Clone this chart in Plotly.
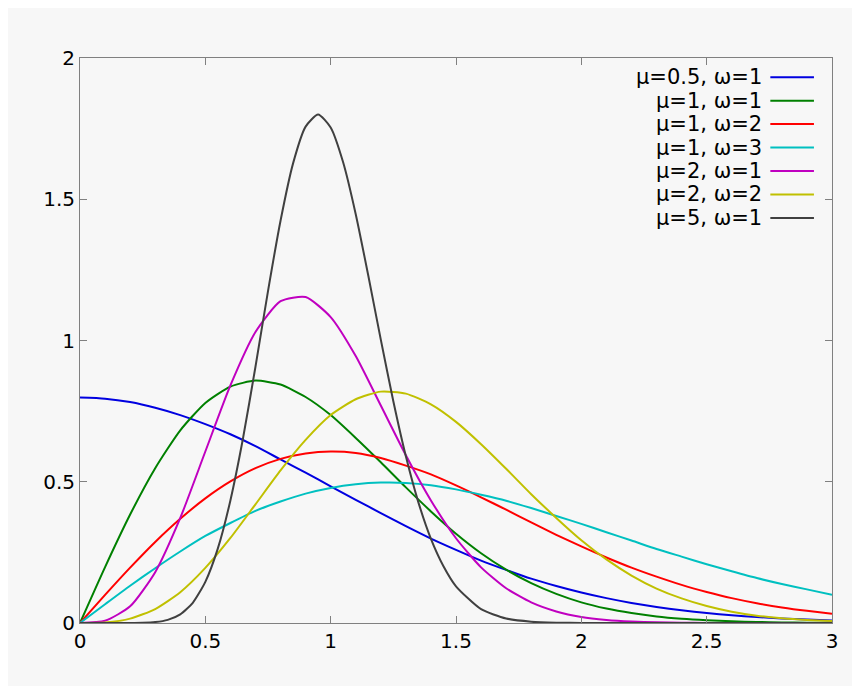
import plotly.graph_objects as go

x01 = [round(i*0.1, 2) for i in range(31)]
s_05_1 = [.798,.794,.782,.762,.736,.704,.668,.626,.579,.532,.484,.436,.389,.343,.299,.259,.221,.188,.157,.131,.108,.088,.071,.057,.045,.035,.027,.021,.016,.012,.009]
s_1_1 = [0,.198,.384,.548,.682,.779,.837,.858,.844,.800,.736,.655,.569,.480,.395,.316,.247,.189,.141,.103,.073,.051,.035,.023,.015,.0097,.006,.0037,.0022,.0013,.0007]
s_1_2 = [0,.0995,.196,.287,.369,.441,.501,.548,.581,.600,.607,.602,.584,.557,.526,.487,.445,.401,.356,.312,.271,.232,.196,.164,.135,.110,.088,.070,.055,.043,.033]
s_1_3 = [0,.0665,.132,.194,.253,.308,.354,.397,.430,.458,.478,.491,.497,.496,.488,.473,.454,.433,.407,.379,.351,.321,.292,.262,.235,.208,.183,.159,.138,.119,.100]
s_2_1 = [0,.0078,.059,.180,.372,.607,.841,1.030,1.139,1.154,1.083,.945,.770,.594,.434,.300,.197,.123,.073,.041,.0215,.011,.0053,.0024,.001,.0004,.0002,.0001,0,0,0]
s_2_2 = [0,.002,.0154,.0495,.109,.195,.301,.420,.540,.648,.736,.792,.819,.812,.774,.712,.633,.546,.456,.372,.293,.225,.168,.122,.087,.060,.040,.026,.017,.011,.0067]
x5 = [0,.1,.2,.25,.3,.35,.4,.45,.5,.55,.6,.65,.7,.75,.8,.85,.9,.95,1,1.05,1.1,1.15,1.2,1.25,1.3,1.35,1.4,1.45,1.5,1.6,1.7,1.8,1.9,2,2.5,3]
s_5_1 = [0,0,.0001,.0007,.0033,.0111,.0307,.0716,.1456,.264,.434,.652,.907,1.175,1.424,1.627,1.757,1.800,1.754,1.630,1.447,1.230,1.003,.785,.590,.427,.298,.201,.130,.049,.016,.0047,.0012,.0003,0,0]

labels = ["μ=0.5, ω=1","μ=1, ω=1","μ=1, ω=2","μ=1, ω=3","μ=2, ω=1","μ=2, ω=2","μ=5, ω=1"]
colors = ["#0000e0","#008000","#ff0000","#00c0c0","#c000c0","#c0c000","#404040"]
xs = [x01]*6 + [x5]
ys = [s_05_1, s_1_1, s_1_2, s_1_3, s_2_1, s_2_2, s_5_1]
tickvals_x = [0,0.5,1,1.5,2,2.5,3]
ticktext_x = ["0","0.5","1","1.5","2","2.5","3"]
tickvals_y = [0,0.5,1,1.5,2]
ticktext_y = ["0","0.5","1","1.5","2"]

fig = go.Figure()
for x, y, c in zip(xs, ys, colors):
    fig.add_trace(go.Scatter(x=x, y=y, mode="lines", line=dict(color=c, width=2, shape="spline", smoothing=0.6),
                             showlegend=False))

for i, (lab, c) in enumerate(zip(labels, colors)):
    yp = 0.966 - i*0.0415
    fig.add_annotation(xref="paper", yref="paper", x=0.910, y=yp, text=lab, showarrow=False,
                       xanchor="right", yanchor="middle", font=dict(size=21, color="black"))
    fig.add_shape(type="line", xref="paper", yref="paper", x0=0.918, x1=0.976, y0=yp, y1=yp,
                  line=dict(color=c, width=2))

axis = dict(showgrid=False, zeroline=False, showline=True, linecolor="#808080", linewidth=1,
            mirror="ticks", ticks="inside", ticklen=7, tickcolor="#808080", automargin=False,
            tickfont=dict(size=20, color="black"))
fig.update_xaxes(range=[0,3], tickvals=tickvals_x, ticktext=ticktext_x, **axis)
fig.update_yaxes(range=[0,2], tickvals=tickvals_y, ticktext=ticktext_y, **axis)
fig.update_layout(width=860, height=686, margin=dict(l=72, r=36, t=50, b=71),
                  paper_bgcolor="#f7f7f7", plot_bgcolor="#f7f7f7",
                  font=dict(family="DejaVu Sans"))
fig.write_html("out.html")
